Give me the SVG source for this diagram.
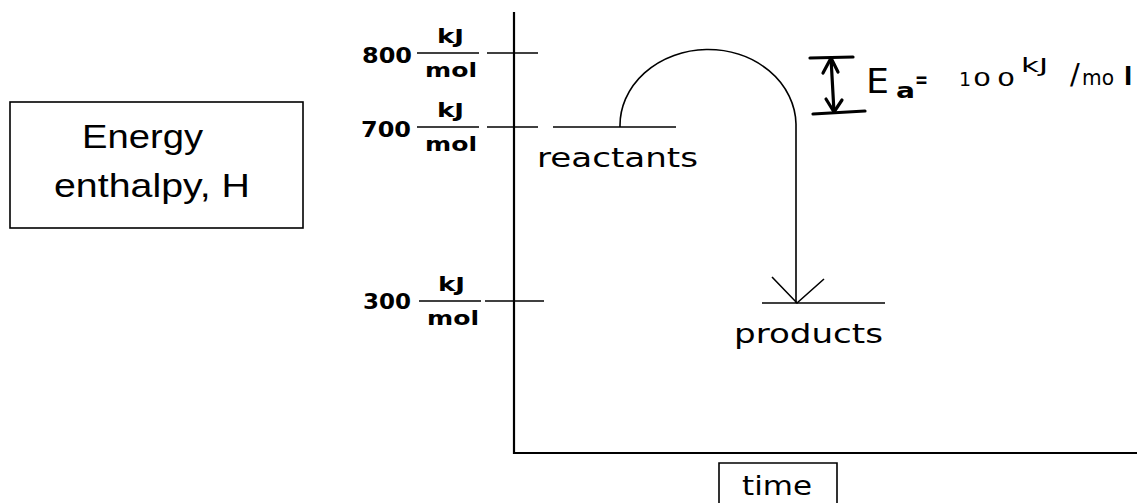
<svg xmlns="http://www.w3.org/2000/svg" width="1137" height="503" viewBox="0 0 1137 503">
<style>
.ln{stroke:#000;stroke-width:1.6;fill:none}
.ax{stroke:#000;stroke-width:2.2;fill:none}
.hw{stroke:#000;stroke-width:3.2;fill:none;stroke-linecap:round;stroke-linejoin:round}
.num{font-family:"DejaVu Sans",Verdana,sans-serif;font-weight:bold;font-size:21px;fill:#000}
.unit{font-family:"DejaVu Sans",Verdana,sans-serif;font-weight:bold;font-size:20px;fill:#000}
.lbl{font-family:"DejaVu Sans",Verdana,sans-serif;font-size:26px;fill:#000}
.box{font-family:"Liberation Sans",Arial,sans-serif;font-size:33px;fill:#000}
.hand{font-family:"DejaVu Sans",sans-serif;fill:#000}
</style>
<rect width="1137" height="503" fill="#fff"/>
<g id="energy-label">
<rect x="10" y="102" width="293" height="126" class="ln"/>
<text class="box" x="82" y="148" textLength="121" lengthAdjust="spacingAndGlyphs">Energy</text>
<text class="box" x="54" y="197" textLength="196" lengthAdjust="spacingAndGlyphs">enthalpy, H</text>
</g>
<g id="axes">
<line x1="514" y1="12" x2="514" y2="454" class="ax"/>
<line x1="513" y1="453" x2="1137" y2="453" class="ax"/>
</g>
<g id="tick-800">
<text class="num" x="362" y="63" textLength="50" lengthAdjust="spacingAndGlyphs">800</text>
<line x1="417" y1="53" x2="479" y2="53" class="ln" stroke-width="2"/>
<text class="unit" x="437" y="43" textLength="27" lengthAdjust="spacingAndGlyphs">kJ</text>
<text class="unit" x="425" y="77" textLength="52" lengthAdjust="spacingAndGlyphs">mol</text>
<line x1="487" y1="53" x2="538" y2="53" class="ln"/>
</g>
<g id="tick-700">
<text class="num" x="361" y="137" textLength="50" lengthAdjust="spacingAndGlyphs">700</text>
<line x1="417" y1="127" x2="479" y2="127" class="ln" stroke-width="2"/>
<text class="unit" x="437" y="117" textLength="27" lengthAdjust="spacingAndGlyphs">kJ</text>
<text class="unit" x="425" y="151" textLength="52" lengthAdjust="spacingAndGlyphs">mol</text>
<line x1="487" y1="127" x2="538" y2="127" class="ln"/>
</g>
<g id="tick-300">
<text class="num" x="363" y="309" textLength="48" lengthAdjust="spacingAndGlyphs">300</text>
<line x1="419" y1="301" x2="481" y2="301" class="ln" stroke-width="2"/>
<text class="unit" x="438" y="291" textLength="27" lengthAdjust="spacingAndGlyphs">kJ</text>
<text class="unit" x="427" y="325" textLength="52" lengthAdjust="spacingAndGlyphs">mol</text>
<line x1="485" y1="301" x2="544" y2="301" class="ln"/>
</g>
<g id="reactants">
<line x1="553" y1="127" x2="676" y2="127" class="ln"/>
<text class="lbl" x="537" y="167" textLength="161" lengthAdjust="spacingAndGlyphs">reactants</text>
</g>
<g id="products">
<line x1="762" y1="303" x2="885" y2="303" class="ln"/>
<text class="lbl" x="734" y="343" textLength="149" lengthAdjust="spacingAndGlyphs">products</text>
</g>
<g id="connectors">
<path d="M620 127 A88 76 0 0 1 796 124 L796 303" class="ln"/>
<path d="M772 277 L797 303 L824 279" class="ln"/>
</g>
<g id="activation-energy">
<path d="M810 58 L853 57" class="hw"/>
<path d="M813 114 L865 111" class="hw"/>
<path d="M831 58 L834 112" class="hw"/>
<path d="M823 73 L831 58 L838 72" class="hw"/>
<path d="M826 99 L834 112 L842 100" class="hw"/>
<text class="hand" x="866" y="93" font-size="34" textLength="23" lengthAdjust="spacingAndGlyphs">E</text>
<text class="hand" x="896" y="98" font-size="21" font-weight="bold" textLength="19" lengthAdjust="spacingAndGlyphs">a</text>
<text class="hand" x="915" y="87" font-size="22" font-weight="bold" textLength="13" lengthAdjust="spacingAndGlyphs">=</text>
<text class="hand" x="959" y="86" font-size="19">1</text>
<text class="hand" font-size="19" transform="translate(973 86) scale(1.5 1)">0</text>
<text class="hand" font-size="19" transform="translate(997 86) scale(1.5 1)">0</text>
<text class="hand" x="1021" y="72" font-size="19" textLength="27" lengthAdjust="spacingAndGlyphs">kJ</text>
<text class="hand" x="1070" y="84" font-size="29">/</text>
<text class="hand" x="1082" y="85" font-size="22" textLength="32" lengthAdjust="spacingAndGlyphs">mo</text>
<text class="hand" x="1124" y="85" font-size="24" font-weight="bold">l</text>
</g>
<g id="time-label">
<path d="M719 503 L719 463 L837 463 L837 503" class="ln"/>
<text class="lbl" x="742" y="495" textLength="70" lengthAdjust="spacingAndGlyphs">time</text>
</g>
</svg>
